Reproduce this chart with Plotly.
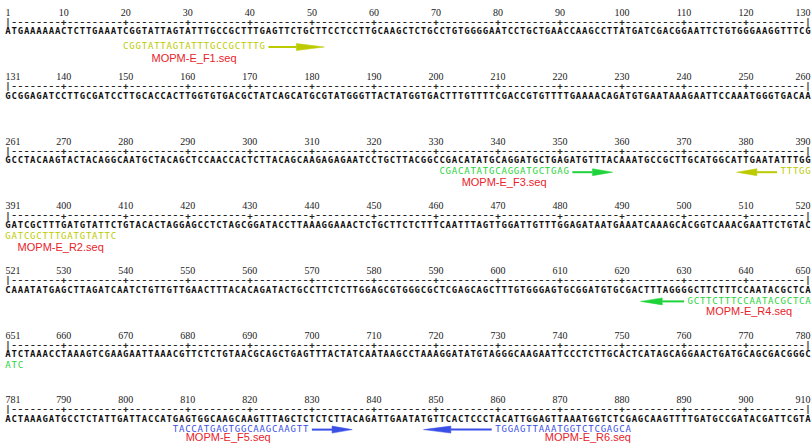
import plotly.graph_objects as go

# ---------------- data ----------------
ROW_LEN = 130
seq_rows = [
    "ATGAAAAAACTCTTGAAATCGGTATTAGTATTTGCCGCTTTGAGTTCTGCTTCCTCCTTGCAAGCTCTGCCTGTGGGGAATCCTGCTGAACCAAGCCTTATGATCGACGGAATTCTGTGGGAAGGTTTCG",
    "GCGGAGATCCTTGCGATCCTTGCACCACTTGGTGTGACGCTATCAGCATGCGTATGGGTTACTATGGTGACTTTGTTTTCGACCGTGTTTTGAAAACAGATGTGAATAAAGAATTCCAAATGGGTGACAA",
    "GCCTACAAGTACTACAGGCAATGCTACAGCTCCAACCACTCTTACAGCAAGAGAGAATCCTGCTTACGGCCGACATATGCAGGATGCTGAGATGTTTACAAATGCCGCTTGCATGGCATTGAATATTTGG",
    "GATCGCTTTGATGTATTCTGTACACTAGGAGCCTCTAGCGGATACCTTAAAGGAAACTCTGCTTCTCTTTCAATTTAGTTGGATTGTTTGGAGATAATGAAATCAAAGCACGGTCAAACGAATTCTGTAC",
    "CAAATATGAGCTTAGATCAATCTGTTGTTGAACTTTACACAGATACTGCCTTCTCTTGGAGCGTGGGCGCTCGAGCAGCTTTGTGGGAGTGCGGATGTGCGACTTTAGGGGCTTCTTTCCAATACGCTCA",
    "ATCTAAACCTAAAGTCGAAGAATTAAACGTTCTCTGTAACGCAGCTGAGTTTACTATCAATAAGCCTAAAGGATATGTAGGGCAAGAATTCCCTCTTGCACTCATAGCAGGAACTGATGCAGCGACGGGC",
    "ACTAAAGATGCCTCTATTGATTACCATGAGTGGCAAGCAAGTTTAGCTCTCTCTTACAGATTGAATATGTTCACTCCCTACATTGGAGTTAAATGGTCTCGAGCAAGTTTTGATGCCGATACGATTCGTA",
]
tick_step = 10

primer_names = ["MOPM-E_F1.seq", "MOPM-E_F3.seq", "MOPM-E_R2.seq",
                "MOPM-E_R4.seq", "MOPM-E_F5.seq", "MOPM-E_R6.seq"]
primer_starts = [20, 331, 386, 631, 808, 860]
primer_seqs = ["CGGTATTAGTATTTGCCGCTTTG", "CGACATATGCAGGATGCTGAG",
               "TTTGGGATCGCTTTGATGTATTC", "GCTTCTTTCCAATACGCTCAATC",
               "TACCATGAGTGGCAAGCAAGTT", "TGGAGTTAAATGGTCTCGAGCA"]
primer_dirs = ["F", "F", "R", "R", "F", "R"]

# ---------------- style ----------------
primer_colors = ["#bccb00", "#1fd43a", "#bccb00", "#1fd43a", "#3a4fe6", "#3a4fe6"]
arrow_lens = [9, 6.5, 6.5, 7, 6.5, 11]
label_shift = [0, 0, 0, 0, -2, 4]      # label offset in character cells
primer_dy = [4, 0, 0, 0, -1, -1]       # vertical tweak (px) of primer text/arrow
label_dy = [5, 0, 0, 0, -3.5, -3.5]    # vertical tweak (px) of label
LABEL_COLOR = "#e8232a"
SEQ_COLOR = "#111111"
ROW_PITCH = 64.6
ROW_TOP = 13
DY_RULER, DY_SEQ, DY_PRIMER, DY_LABEL = 9.5, 19, 30, 41
MONO = "DejaVu Sans Mono"

def row_y(r):
    return ROW_TOP + r * ROW_PITCH

fig = go.Figure()

# sequence & ruler characters
sx, sy, st = [], [], []
rx, ry, rt = [], [], []
mx, my, mt = [], [], []
for r, s in enumerate(seq_rows):
    for i, ch in enumerate(s):
        p = i + 1
        sx.append(p); sy.append(row_y(r) + DY_SEQ); st.append(ch)
        if p == 1 or p == ROW_LEN:
            mx.append(p); my.append(row_y(r) + DY_RULER); mt.append("|")
        elif p % tick_step == 0:
            mx.append(p); my.append(row_y(r) + DY_RULER); mt.append("+")
        else:
            rx.append(p); ry.append(row_y(r) + DY_RULER); rt.append("-")

fig.add_trace(go.Scatter(x=sx, y=sy, text=st, mode="text", hoverinfo="skip", cliponaxis=False,
                         textfont=dict(family=MONO, size=9, color=SEQ_COLOR, weight="bold")))
fig.add_trace(go.Scatter(x=rx, y=ry, text=rt, mode="text", hoverinfo="skip", cliponaxis=False,
                         textfont=dict(family=MONO, size=12, color="#222222")))
fig.add_trace(go.Scatter(x=mx, y=my, text=mt, mode="text", hoverinfo="skip", cliponaxis=False,
                         textfont=dict(family=MONO, size=9, color="#222222", weight="bold")))

# tick number labels
tx, ty, tt, tp = [], [], [], []
for r in range(len(seq_rows)):
    base = r * ROW_LEN
    tx.append(0.6); ty.append(row_y(r)); tt.append(str(base + 1)); tp.append("middle right")
    for p in range(tick_step, ROW_LEN, tick_step):
        tx.append(p); ty.append(row_y(r)); tt.append(str(base + p)); tp.append("middle center")
    tx.append(ROW_LEN + 0.4); ty.append(row_y(r)); tt.append(str(base + ROW_LEN)); tp.append("middle left")
fig.add_trace(go.Scatter(x=tx, y=ty, text=tt, textposition=tp, mode="text", hoverinfo="skip",
                         cliponaxis=False,
                         textfont=dict(family="Liberation Serif", size=10, color="#222222")))

# primers
for name, start, pseq, d, col, alen, lsh, pdy, ldy in zip(primer_names, primer_starts, primer_seqs,
                                                           primer_dirs, primer_colors, arrow_lens,
                                                           label_shift, primer_dy, label_dy):
    px, py, pt = [], [], []
    per_row = {}
    for k, ch in enumerate(pseq):
        g = start + k - 1
        r, p = divmod(g, ROW_LEN)
        p += 1
        px.append(p); py.append(row_y(r) + DY_PRIMER + pdy); pt.append(ch)
        per_row.setdefault(r, []).append(p)
    fig.add_trace(go.Scatter(x=px, y=py, text=pt, mode="text", hoverinfo="skip", cliponaxis=False,
                             textfont=dict(family=MONO, size=9, color=col)))
    # label centred under the longest row segment
    lr = max(per_row, key=lambda k: len(per_row[k]))
    seg = per_row[lr]
    fig.add_trace(go.Scatter(x=[(seg[0] + seg[-1]) / 2 + lsh], y=[row_y(lr) + DY_LABEL + ldy],
                             text=[name], mode="text", hoverinfo="skip", cliponaxis=False,
                             textfont=dict(family="Liberation Sans", size=11, color=LABEL_COLOR)))
    # arrow
    if d == "F":
        g = start + len(pseq) - 1
        r, p = divmod(g - 1, ROW_LEN)
        p += 1
        x0 = p + 1.0
        x1 = x0 + alen
    else:
        r, p = divmod(start - 1, ROW_LEN)
        p += 1
        x0 = p - 1.0
        x1 = x0 - alen
    yy = row_y(r) + DY_PRIMER + pdy
    head = 0.5 * alen if alen < 10 else 0.4 * alen
    xh = x1 - head if d == "F" else x1 + head
    fig.add_trace(go.Scatter(x=[x0, xh], y=[yy, yy], mode="lines", hoverinfo="skip",
                             line=dict(color=col, width=2)))
    fig.add_trace(go.Scatter(x=[xh, x1, xh, xh], y=[yy - 3.5, yy, yy + 3.5, yy - 3.5], mode="lines",
                             fill="toself", fillcolor=col, hoverinfo="skip",
                             line=dict(color=col, width=0.5)))

fig.update_layout(
    width=811, height=445, margin=dict(l=0, r=0, t=0, b=0),
    paper_bgcolor="white", plot_bgcolor="white", showlegend=False,
    xaxis=dict(range=[-0.29, 130.48], visible=False, fixedrange=True),
    yaxis=dict(range=[445, 0], visible=False, fixedrange=True),
)
fig.write_html("out.html", config={"displayModeBar": False},
               post_script="document.body.style.margin='0';document.body.style.overflow='hidden';")
